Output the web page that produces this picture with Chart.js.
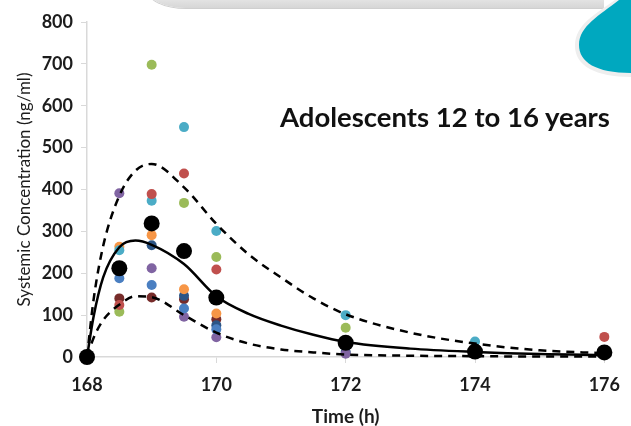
<!DOCTYPE html>
<html>
<head>
<meta charset="utf-8">
<script src="https://cdn.jsdelivr.net/npm/chart.js@4"></script>
<style>
  html, body { margin: 0; padding: 0; background: #fff; }
  #wrap { position: relative; width: 631px; height: 426px; overflow: hidden; }
  #chart { position: absolute; left: 0; top: 0; }
  .topbar {
    position: absolute; left: 146px; top: -12px; width: 458px; height: 20px;
    background: linear-gradient(#f6f6f6, #d6d6d6);
    border-bottom-left-radius: 40px 20px;
    box-shadow: 0 1px 0 #cfcfcf;
  }
  .deco { position: absolute; left: 0; top: 0; }
  .label {
    position: absolute; left: 280px; top: 100px;
    font: bold 27.5px Lato, sans-serif; color: #111; white-space: nowrap;
  }
</style>
</head>
<body>
<div id="wrap">
  <canvas id="chart" width="631" height="426"></canvas>
  <div class="topbar"></div>
  <svg class="deco" width="631" height="426">
    <path d="M 615 0 C 596 14, 575 24, 575 46 C 575 66, 596 77, 631 77 L 631 0 Z" fill="#eeeeee"/>
    <path d="M 619 0 C 600 15, 579 26, 579 45 C 579 62, 596 73, 631 73 L 631 0 Z" fill="#00a8bf"/>
  </svg>
  <div class="label">Adolescents 12 to 16 years</div>
</div>
<script>
// sampling times (h) for the individual subjects
const sampleTimes = [168.5, 169, 169.5, 170, 172, 174, 176]
const subjBlue   = [188, 172, 116, 66, null, null, null]
const subjRed    = [124, 389, 438, 209, null, null, 48]
const subjGreen  = [108, 698, 368, 239, 70, null, null]
const subjPurple = [391, 212, 96, 47, 8, null, null]
const subjCyan   = [255, 373, 549, 301, 100, 37, null]
const subjOrange = [263, 291, 162, 104, null, null, null]
const subjNavy   = [null, 267, 146, 76, 12, null, null]
const subjMaroon = [140, 142, 138, 90, null, null, null]

// observed means
const meanTimes = [168, 168.5, 169, 169.5, 170, 172, 174, 176]
const meanConc  = [0, 212, 319, 253, 142, 34, 13, 11]

// model prediction (median and interval)
const curveTimes = [168, 168.1, 168.25, 168.5, 168.75, 169, 169.5, 170, 170.5, 171, 171.5, 172, 173, 174, 175, 176]
const predMedian = [0, 95, 190, 262, 278, 268, 222, 145, 103, 75, 53, 36, 20, 12, 7, 5]
const predUpper  = [0, 135, 265, 385, 445, 461, 405, 318, 245, 190, 140, 102, 58, 32, 16, 9]
const predLower  = [0, 45, 88, 125, 145, 143, 100, 58, 32, 18, 11, 6, 3, 2, 1, 1]

const xTicks = [168, 170, 172, 174, 176]

const pts = (xs, ys) => xs.map((x, i) => ({ x, y: ys[i] })).filter(p => p.y !== null)

function subject(values, color) {
  return {
    type: 'scatter',
    data: pts(sampleTimes, values),
    backgroundColor: color,
    borderColor: color,
    pointRadius: 5,
    borderWidth: 0,
    clip: false,
    order: 3,
  }
}

function curve(values, dash) {
  return {
    type: 'line',
    data: pts(curveTimes, values),
    borderColor: '#000',
    borderWidth: 2.5,
    borderDash: dash,
    pointRadius: 0,
    cubicInterpolationMode: 'monotone',
    fill: false,
    clip: false,
    order: 2,
  }
}

const txt = '#1c1c1c'

new Chart(document.getElementById('chart'), {
  type: 'scatter',
  data: {
    datasets: [
      {
        type: 'scatter',
        data: pts(meanTimes, meanConc),
        backgroundColor: '#000',
        pointRadius: 8,
        borderWidth: 0,
        clip: false,
        order: 1,
      },
      curve(predMedian, []),
      curve(predUpper, [8, 6]),
      curve(predLower, [8, 6]),
      subject(subjBlue,   '#4a7fc1'),
      subject(subjRed,    '#c0504d'),
      subject(subjGreen,  '#9bbb59'),
      subject(subjPurple, '#8064a2'),
      subject(subjCyan,   '#4bacc6'),
      subject(subjOrange, '#f79646'),
      subject(subjNavy,   '#2c5586'),
      subject(subjMaroon, '#772c2a'),
    ],
  },
  options: {
    responsive: false,
    animation: false,
    layout: { padding: { top: 22, right: 14, left: 0, bottom: 0 } },
    plugins: { legend: { display: false }, tooltip: { enabled: false } },
    scales: {
      x: {
        type: 'linear',
        min: 168, max: 176,
        afterFit: s => { s.height = 69 },
        afterBuildTicks: s => { s.ticks = xTicks.map(v => ({ value: v })) },
        grid: { drawOnChartArea: false, drawTicks: true, tickLength: 6, color: '#d9d9d9' },
        border: { color: '#d9d9d9', width: 1.5 },
        ticks: { color: txt, font: { family: 'Lato', size: 18, weight: 'bold' }, padding: 11, maxRotation: 0 },
        title: { display: true, text: 'Time (h)', color: txt, font: { family: 'Lato', size: 19, weight: 'bold', lineHeight: 1 }, padding: { top: 0, bottom: 0 } },
      },
      y: {
        min: 0, max: 800,
        afterFit: s => { s.width = 87 },
        grid: { drawOnChartArea: false, drawTicks: true, tickLength: 6, color: '#d9d9d9' },
        border: { color: '#d9d9d9', width: 1.5 },
        ticks: { stepSize: 100, color: txt, font: { family: 'Lato', size: 18, weight: 'bold' }, padding: 8 },
        title: { display: true, text: 'Systemic Concentration (ng/ml)', color: txt, font: { family: 'Lato', size: 17 }, padding: { top: 14, bottom: 0 } },
      },
    },
  },
})
</script>
</body>
</html>
